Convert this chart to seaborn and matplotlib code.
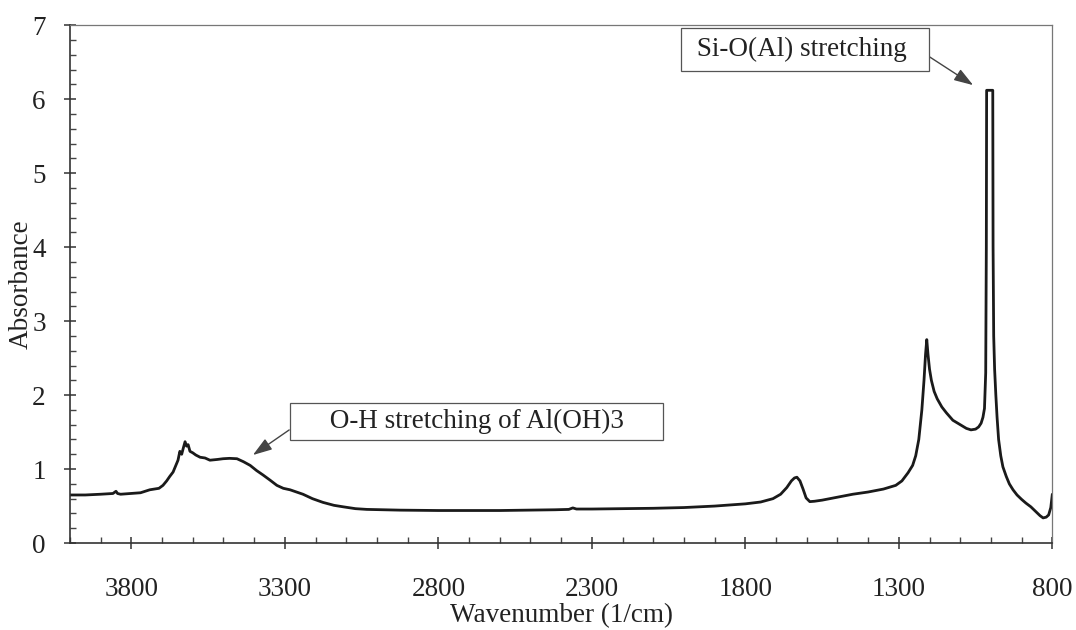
import matplotlib
matplotlib.use("Agg")
import matplotlib.pyplot as plt
from matplotlib.ticker import MultipleLocator
import pandas as pd
import seaborn as sns

# FTIR spectrum: wavenumber (1/cm) and absorbance
wavenumber = [
    4000, 3950, 3900, 3860, 3850, 3845, 3835, 3800, 3770, 3755, 3740, 3725,
    3710, 3697, 3685, 3675, 3664, 3655, 3648, 3642, 3636, 3631, 3625, 3620,
    3615, 3609, 3600, 3590, 3576, 3560, 3544, 3520, 3501, 3480, 3456, 3435,
    3413, 3392, 3371, 3348, 3326, 3305, 3283, 3262, 3241, 3210, 3176, 3140,
    3110, 3070, 3033, 2980, 2925, 2800, 2700, 2600, 2500, 2420, 2375, 2362,
    2350, 2300, 2200, 2100, 2000, 1900, 1800, 1750, 1710, 1685, 1665, 1650,
    1640, 1632, 1622, 1612, 1602, 1590, 1575, 1550, 1500, 1450, 1400, 1350,
    1310, 1290, 1270, 1255, 1245, 1235, 1225, 1218, 1213, 1209, 1205, 1200,
    1194, 1185, 1175, 1160, 1145, 1124, 1100, 1080, 1065, 1050, 1040, 1032,
    1026, 1021, 1017, 1015, 1014, 994, 993, 991, 988, 984, 980, 975, 968,
    961, 950, 940, 928, 915, 900, 886, 870, 855, 840, 830, 820, 812, 805, 800,
]
absorbance = [
    0.65, 0.65, 0.66, 0.67, 0.70, 0.67, 0.66, 0.67, 0.68, 0.70, 0.72, 0.73,
    0.74, 0.78, 0.84, 0.90, 0.96, 1.05, 1.12, 1.24, 1.20, 1.28, 1.37, 1.31,
    1.33, 1.24, 1.22, 1.19, 1.16, 1.15, 1.12, 1.13, 1.14, 1.145, 1.14, 1.10,
    1.05, 0.98, 0.92, 0.85, 0.78, 0.74, 0.72, 0.69, 0.66, 0.60, 0.55, 0.51,
    0.49, 0.465, 0.455, 0.45, 0.445, 0.44, 0.44, 0.44, 0.445, 0.45, 0.455, 0.475,
    0.46, 0.46, 0.465, 0.47, 0.48, 0.50, 0.53, 0.555, 0.60, 0.66, 0.75, 0.84,
    0.88, 0.89, 0.84, 0.73, 0.61, 0.56, 0.565, 0.58, 0.62, 0.66, 0.69, 0.73,
    0.78, 0.84, 0.95, 1.05, 1.18, 1.40, 1.80, 2.20, 2.55, 2.75, 2.55, 2.35,
    2.20, 2.05, 1.95, 1.84, 1.76, 1.66, 1.60, 1.55, 1.53, 1.54, 1.57, 1.62,
    1.70, 1.82, 2.30, 4.00, 6.12, 6.12, 4.00, 2.80, 2.35, 2.00, 1.70, 1.40, 1.18,
    1.03, 0.90, 0.80, 0.72, 0.65, 0.59, 0.54, 0.49, 0.43, 0.37, 0.34, 0.35, 0.38, 0.48, 0.66,
]

x_ticks = [3800, 3300, 2800, 2300, 1800, 1300, 800]
y_ticks = [0, 1, 2, 3, 4, 5, 6, 7]

df = pd.DataFrame({"Wavenumber": wavenumber, "Absorbance": absorbance})

sns.set_style("ticks")
plt.rcParams["font.family"] = ["Liberation Serif", "DejaVu Serif"]

FS = 19.5
TXT = "#222222"

fig = plt.figure(figsize=(10.76, 6.30), dpi=100)
ax = fig.add_axes([0.065, 0.138, 0.913, 0.822])

sns.lineplot(data=df, x="Wavenumber", y="Absorbance", ax=ax,
             color="#1a1a1a", linewidth=2.0, sort=False, estimator=None)

ax.set_xlim(4000, 800)
ax.set_ylim(0, 7)
ax.set_xticks(x_ticks)
ax.set_yticks(y_ticks)
ax.xaxis.set_minor_locator(MultipleLocator(100))
ax.yaxis.set_minor_locator(MultipleLocator(0.2))
ax.tick_params(which="major", direction="inout", length=9, width=1.1,
               colors="#333333", labelcolor=TXT, labelsize=FS)
ax.tick_params(axis="x", which="major", pad=20)
ax.tick_params(axis="y", which="major", pad=13)
ax.tick_params(which="minor", direction="in", length=4, width=1.0, colors="#444444")

for side in ("left", "bottom"):
    ax.spines[side].set_color("#333333")
    ax.spines[side].set_linewidth(1.2)
for side in ("top", "right"):
    ax.spines[side].set_visible(True)
    ax.spines[side].set_color("#777777")
    ax.spines[side].set_linewidth(0.9)

ax.set_xlabel("Wavenumber (1/cm)", fontsize=FS, color=TXT, labelpad=1)
ax.set_ylabel("Absorbance", fontsize=FS, color=TXT, labelpad=-1)

box = dict(boxstyle="square,pad=0.32", fc="white", ec="#555555", lw=0.9)


def arrow(rel):
    return dict(arrowstyle="-|>,head_length=0.6,head_width=0.2", color="#444444",
                lw=1.0, shrinkA=0, shrinkB=0, relpos=rel)


ax.annotate(" Si-O(Al) stretching  ", xy=(1058, 6.19), xytext=(1605, 6.67),
            fontsize=FS, color=TXT, ha="center", va="center",
            bbox=box, arrowprops=arrow((1.0, 0.45)))
ax.annotate("     O-H stretching of Al(OH)3     ", xy=(3404, 1.19), xytext=(2676, 1.64),
            fontsize=FS, color=TXT, ha="center", va="center",
            bbox=dict(box, boxstyle="square,pad=0.22"), arrowprops=arrow((0.0, 0.35)))

fig.savefig("out.png", dpi=100, facecolor="white")
